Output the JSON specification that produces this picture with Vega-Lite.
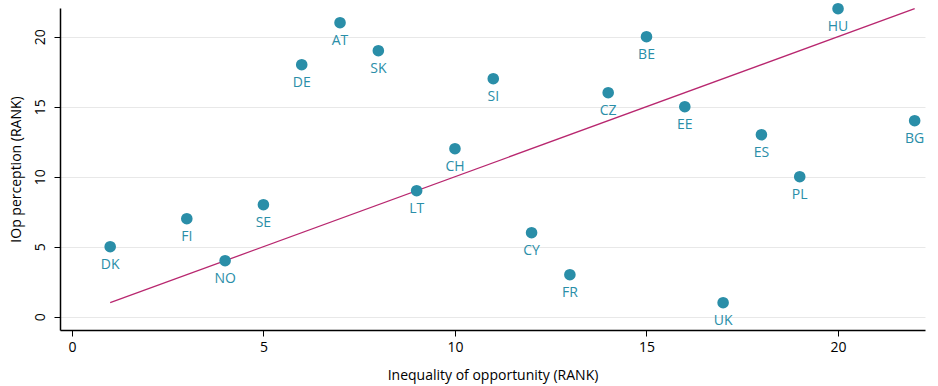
{
  "$schema": "https://vega.github.io/schema/vega-lite/v6.json",
  "width": 865,
  "height": 322,
  "padding": {"left": 60, "top": 8, "right": 13, "bottom": 56},
  "autosize": {"type": "none"},
  "background": "white",
  "config": {
    "view": {"stroke": null},
    "font": "Open Sans",
    "axis": {"labelFont": "Open Sans", "titleFont": "Open Sans", "labelColor": "#000", "titleColor": "#000", "titleFontWeight": "normal", "labelFontSize": 14, "titleFontSize": 14, "domainColor": "#000", "tickColor": "#000"}
  },
  "datasets": {
    "pts": [
      {"country": "DK", "ioo": 1, "perc": 5},
      {"country": "FI", "ioo": 3, "perc": 7},
      {"country": "NO", "ioo": 4, "perc": 4},
      {"country": "SE", "ioo": 5, "perc": 8},
      {"country": "DE", "ioo": 6, "perc": 18},
      {"country": "AT", "ioo": 7, "perc": 21},
      {"country": "SK", "ioo": 8, "perc": 19},
      {"country": "LT", "ioo": 9, "perc": 9},
      {"country": "CH", "ioo": 10, "perc": 12},
      {"country": "SI", "ioo": 11, "perc": 17},
      {"country": "CY", "ioo": 12, "perc": 6},
      {"country": "FR", "ioo": 13, "perc": 3},
      {"country": "CZ", "ioo": 14, "perc": 16},
      {"country": "BE", "ioo": 15, "perc": 20},
      {"country": "EE", "ioo": 16, "perc": 15},
      {"country": "UK", "ioo": 17, "perc": 1},
      {"country": "ES", "ioo": 18, "perc": 13},
      {"country": "PL", "ioo": 19, "perc": 10},
      {"country": "HU", "ioo": 20, "perc": 22},
      {"country": "BG", "ioo": 22, "perc": 14}
    ],
    "fit": [
      {"ioo": 1, "perc": 1},
      {"ioo": 22, "perc": 22}
    ]
  },
  "layer": [
    {
      "data": {"name": "fit"},
      "mark": {"type": "line", "color": "#b8276f", "strokeWidth": 1.3},
      "encoding": {
        "x": {"field": "ioo", "type": "quantitative", "scale": {"domain": [-0.31, 22.27], "nice": false, "zero": false},
          "axis": {"title": "Inequality of opportunity (RANK)", "values": [0, 5, 10, 15, 20], "grid": false, "tickSize": 6, "labelPadding": 4, "titlePadding": 14, "domainWidth": 1.5}},
        "y": {"field": "perc", "type": "quantitative", "scale": {"domain": [-0.95, 22.05], "nice": false, "zero": false},
          "axis": {"title": "IOp perception (RANK)", "values": [0, 5, 10, 15, 20], "grid": true, "gridColor": "#e8e8e8", "gridWidth": 1, "tickSize": 6, "labelAngle": -90, "labelAlign": "center", "labelBaseline": "bottom", "labelPadding": 7, "titlePadding": 10, "domainWidth": 1.5}}
      }
    },
    {
      "data": {"name": "pts"},
      "mark": {"type": "point", "filled": true, "opacity": 1, "size": 135, "color": "#2a8ea8"},
      "encoding": {
        "x": {"field": "ioo", "type": "quantitative"},
        "y": {"field": "perc", "type": "quantitative"}
      }
    },
    {
      "data": {"name": "pts"},
      "mark": {"type": "text", "dy": 18, "fontSize": 14, "color": "#2a8ea8", "font": "Open Sans"},
      "encoding": {
        "x": {"field": "ioo", "type": "quantitative"},
        "y": {"field": "perc", "type": "quantitative"},
        "text": {"field": "country"}
      }
    }
  ]
}
